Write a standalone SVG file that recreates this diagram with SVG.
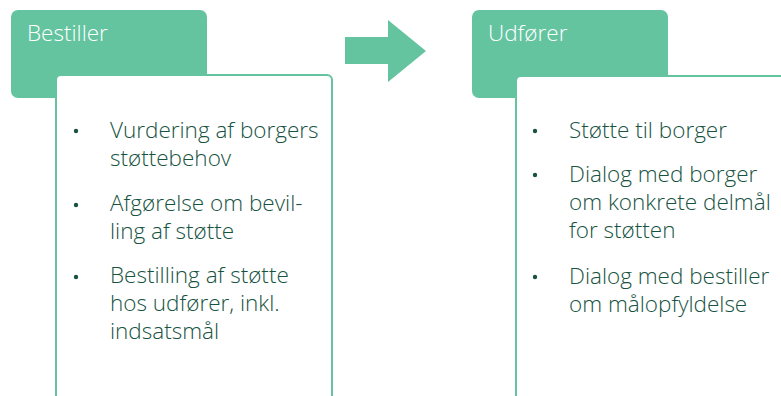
<svg xmlns="http://www.w3.org/2000/svg" width="781" height="396" viewBox="0 0 781 396">
<style>
.tab{fill:#64c4a0}
.box{fill:#ffffff;stroke:#64c4a0;stroke-width:2}
.title{font-family:"Open Sans","Noto Sans",sans-serif;font-size:22.5px;font-weight:300;fill:#ffffff}
.txt{font-family:"Open Sans","Noto Sans",sans-serif;font-size:22.5px;font-weight:350;fill:#17533f}
.dot{fill:#17533f}
</style>
<rect width="781" height="396" fill="#ffffff"/>
<g id="bestiller">
<rect class="tab" x="11" y="10" width="196" height="88" rx="7"/>
<text class="title" x="27" y="41">Bestiller</text>
<rect class="box" x="56" y="75" width="276" height="340" rx="5"/>
<circle class="dot" cx="76" cy="131" r="2.2"/>
<circle class="dot" cx="76" cy="205" r="2.2"/>
<circle class="dot" cx="76" cy="277" r="2.2"/>
<text class="txt" x="110" y="138">Vurdering af borgers<tspan x="110" dy="28">støttebehov</tspan></text>
<text class="txt" x="110" y="211">Afgørelse om bevil-<tspan x="110" dy="28">ling af støtte</tspan></text>
<text class="txt" x="110" y="283">Bestilling af støtte<tspan x="110" dy="28">hos udfører, inkl.</tspan><tspan x="110" dy="28">indsatsmål</tspan></text>
</g>
<g id="connectors">
<polygon class="tab" points="345,37 388,37 388,20 426,51 388,82 388,64 345,64"/>
</g>
<g id="udforer">
<rect class="tab" x="472" y="10" width="196" height="88" rx="7"/>
<text class="title" x="488" y="41">Udfører</text>
<rect class="box" x="516" y="76" width="300" height="340" rx="5"/>
<circle class="dot" cx="535" cy="131" r="2.2"/>
<circle class="dot" cx="535" cy="175" r="2.2"/>
<circle class="dot" cx="535" cy="277" r="2.2"/>
<text class="txt" x="569" y="138">Støtte til borger</text>
<text class="txt" x="569" y="182">Dialog med borger<tspan x="569" dy="28">om konkrete delmål</tspan><tspan x="569" dy="28">for støtten</tspan></text>
<text class="txt" x="569" y="284">Dialog med bestiller<tspan x="569" dy="28">om målopfyldelse</tspan></text>
</g>
</svg>
